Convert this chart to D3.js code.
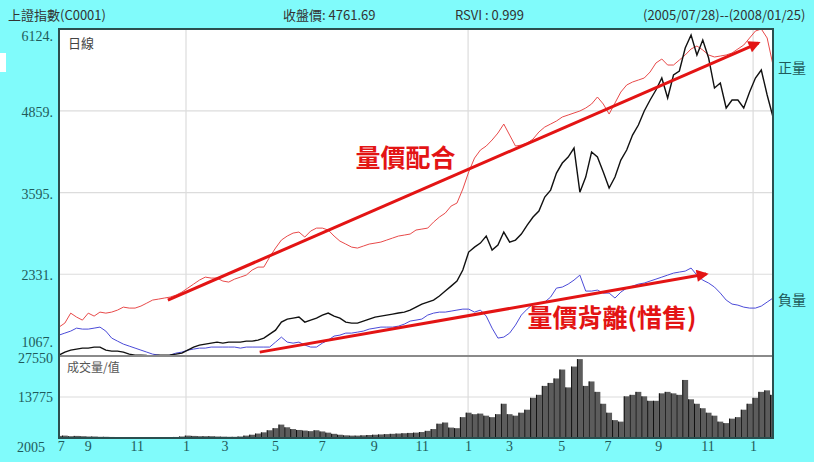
<!DOCTYPE html>
<html>
<head>
<meta charset="utf-8">
<script src="https://cdn.jsdelivr.net/npm/d3@7"></script>
<style>
  body { margin: 0; background: #80fbfb; }
  svg { display: block; }
  text { font-family: 'Liberation Serif', 'Noto Sans CJK TC', serif; }
  .cjk { font-family: 'Noto Sans CJK TC', sans-serif; }
</style>
</head>
<body>
<div id="chart"></div>
<script>
// one sample every 5 trading days, 2005/07/28 .. 2008/01/25
const closes = [
  1081, 1127, 1158, 1174, 1189, 1189, 1205, 1205, 1158, 1143,
  1143, 1127, 1096, 1081, 1081, 1075, 1072, 1078, 1081, 1085,
  1096, 1112, 1158, 1205, 1236, 1251, 1267, 1282, 1267, 1282,
  1282, 1282, 1297, 1297, 1313, 1344, 1406, 1467, 1591, 1638,
  1653, 1669, 1591, 1622, 1653, 1700, 1731, 1684, 1653, 1591,
  1576, 1576, 1607, 1638, 1669, 1684, 1700, 1715, 1731, 1746,
  1777, 1823, 1870, 1901, 1932, 1994, 2071, 2148, 2226, 2396,
  2674, 2751, 2813, 2922, 2705, 2782, 2984, 2829, 2860, 2953,
  3092, 3216, 3308, 3525, 3633, 3896, 4051, 4144, 4283, 3600,
  3834, 4221, 4144, 3912, 3664, 3834, 4097, 4252, 4484, 4639,
  4856, 5026, 5180, 5366, 5057, 5413, 5475, 5830, 6031, 5722,
  5954, 5675, 5211, 5289, 4902, 5026, 5026, 4902, 5149, 5366,
  5490, 5103, 4761.69
]

const positiveVol = [
  1514, 1576, 1730, 1669, 1622, 1730, 1684, 1746, 1730, 1746,
  1777, 1823, 1808, 1808, 1839, 1885, 1932, 1947, 1963, 1978,
  2009, 2055, 2117, 2179, 2241, 2287, 2272, 2272, 2226, 2210,
  2256, 2287, 2318, 2396, 2442, 2442, 2597, 2736, 2860, 2922,
  2968, 2984, 2906, 2999, 3045, 3045, 3015, 2922, 2844, 2798,
  2751, 2736, 2767, 2798, 2813, 2829, 2860, 2891, 2922, 2937,
  2953, 3015, 3030, 3045, 3138, 3216, 3277, 3386, 3432, 3649,
  3912, 4128, 4252, 4314, 4407, 4515, 4654, 4484, 4314, 4329,
  4360, 4422, 4531, 4608, 4654, 4701, 4763, 4794, 4825, 4856,
  4902, 4964, 5072, 4964, 4809, 4979, 5149, 5258, 5304, 5335,
  5366, 5459, 5598, 5660, 5567, 5567, 5644, 5722, 5815, 5861,
  5799, 5722, 5691, 5706, 5722, 5753, 5815, 5876, 5985, 6093,
  6124, 5985, 5567
]

const negativeVol = [
  1390, 1421, 1452, 1498, 1483, 1483, 1498, 1514, 1452, 1344,
  1297, 1251, 1220, 1189, 1158, 1127, 1096, 1081, 1060, 1081,
  1112, 1127, 1158, 1174, 1189, 1189, 1205, 1205, 1205, 1205,
  1205, 1189, 1205, 1205, 1205, 1205, 1205, 1282, 1359, 1282,
  1266, 1282, 1236, 1205, 1205, 1266, 1313, 1375, 1390, 1421,
  1421, 1436, 1452, 1483, 1498, 1514, 1514, 1514, 1529, 1560,
  1607, 1622, 1638, 1700, 1730, 1746, 1746, 1761, 1777, 1792,
  1792, 1746, 1777, 1684, 1498, 1344, 1359, 1421, 1545, 1700,
  1792, 1870, 1885, 1901, 1978, 2117, 2133, 2179, 2241, 2318,
  2071, 2071, 2086, 2040, 2040, 1963, 2055, 2117, 2148, 2179,
  2195, 2226, 2256, 2287, 2318, 2349, 2365, 2380, 2427, 2318,
  2241, 2195, 2133, 2040, 1932, 1870, 1854, 1823, 1808, 1808,
  1839, 1901, 1963
]

const volume = [
  700, 800, 600, 700, 600, 500, 500, 400, 400, 350,
  300, 300, 250, 250, 250, 250, 250, 250, 300, 300,
  350, 500, 800, 700, 600, 600, 600, 500, 450, 400,
  400, 500, 800, 1100, 1500, 1900, 2600, 3300, 4500, 3600,
  3000, 2700, 2500, 2300, 2600, 2200, 1800, 1400, 1100, 900,
  800, 800, 900, 1000, 1100, 1200, 1300, 1400, 1500, 1600,
  1700, 1800, 2000, 2400, 3000, 4800, 5200, 3500, 3300, 7000,
  8500, 8000, 8200, 7500, 7000, 8000, 11500, 8000, 7500, 8500,
  9500, 13500, 14500, 17500, 18500, 20000, 23000, 17000, 24000, 26500,
  17500, 19000, 15500, 11500, 8500, 6000, 5500, 14000, 14500, 15500,
  14000, 12500, 12500, 15000, 15500, 15000, 14500, 19500, 13000, 11500,
  10000, 8500, 7500, 5500, 5000, 6500, 7000, 9500, 11500, 13500,
  15500, 16000, 14500
]

const priceTicks = [1067, 2331, 3595, 4859, 6124]
const volTicks = [13775, 27550]
const monthLabels = ['7', '9', '11', '1', '3', '5', '7', '9', '11', '1', '3', '5', '7', '9', '11', '1']
const monthPos = [0.3, 4.9, 13.3, 21.7, 28.3, 36.9, 44.9, 53.8, 62.0, 69.9, 76.9, 85.8, 93.7, 102.4, 110.8, 118.6]
const startYear = '2005'

const header = [
  { text: '上證指數(C0001)', x: 8 },
  { text: '收盤價: 4761.69', x: 283 },
  { text: 'RSVI : 0.999', x: 455 },
  { text: '(2005/07/28)--(2008/01/25)', x: 643 }
]

// annotation arrows, in data units [index, value]
const notes = [
  { from: [18.6, 1931], to: [119.5, 5907], label: '量價配合', at: [59.2, 3990] },
  { from: [34.3, 1127], to: [110.6, 2334], label: '量價背離(惜售)', at: [94.5, 1514] }
]

const width = 814
const height = 462
const plot = { left: 59, right: 773, top: 29, mid: 356, bottom: 438 }

const svg = d3.select('#chart')
  .append('svg')
  .attr('width', width)
  .attr('height', height)

svg.append('rect')
  .attr('width', width)
  .attr('height', height)
  .attr('fill', '#80fbfb')

svg.append('rect')
  .attr('x', 0).attr('y', 53)
  .attr('width', 6).attr('height', 19)
  .attr('fill', '#fff')

svg.append('rect')
  .attr('x', plot.left)
  .attr('y', plot.top)
  .attr('width', plot.right - plot.left)
  .attr('height', plot.bottom - plot.top)
  .attr('fill', '#fff')

const x = d3.scaleLinear()
  .domain([0, closes.length - 1])
  .range([plot.left, plot.right])

const y = d3.scaleLinear()
  .domain([priceTicks[0], priceTicks[priceTicks.length - 1]])
  .range([plot.mid, plot.top])

const yVol = d3.scaleLinear()
  .domain([0, volTicks[volTicks.length - 1]])
  .range([plot.bottom, plot.mid])

const defs = svg.append('defs')
defs.append('clipPath').attr('id', 'clipPrice')
  .append('rect')
  .attr('x', plot.left).attr('y', plot.top)
  .attr('width', plot.right - plot.left).attr('height', plot.mid - plot.top)
defs.append('clipPath').attr('id', 'clipVol')
  .append('rect')
  .attr('x', plot.left).attr('y', plot.mid)
  .attr('width', plot.right - plot.left).attr('height', plot.bottom - plot.mid)
defs.append('marker')
  .attr('id', 'arrowHead')
  .attr('viewBox', '0 0 10 10')
  .attr('refX', 8).attr('refY', 5)
  .attr('markerWidth', 5).attr('markerHeight', 4)
  .attr('markerUnits', 'strokeWidth')
  .attr('orient', 'auto')
  .append('path')
  .attr('d', 'M0,0L10,5L0,10z')
  .attr('fill', '#e31414')

// grid
const grid = svg.append('g').attr('stroke', '#dcdcdc').attr('stroke-width', 1.2)
grid.selectAll('.hgrid')
  .data(priceTicks.slice(1, -1))
  .join('line')
  .attr('x1', plot.left).attr('x2', plot.right)
  .attr('y1', d => y(d)).attr('y2', d => y(d))
grid.selectAll('.vgrid')
  .data(volTicks.slice(0, -1))
  .join('line')
  .attr('x1', plot.left).attr('x2', plot.right)
  .attr('y1', d => yVol(d)).attr('y2', d => yVol(d))
grid.selectAll('.ygrid')
  .data(monthPos.filter((d, i) => monthLabels[i] === '1'))
  .join('line')
  .attr('x1', d => x(d)).attr('x2', d => x(d))
  .attr('y1', plot.top).attr('y2', plot.bottom)

// volume bars
const step = x(1) - x(0)
const bars = svg.append('g').attr('clip-path', 'url(#clipVol)')
bars.selectAll('rect')
  .data(volume)
  .join('rect')
  .attr('x', (d, i) => x(i) - step / 2)
  .attr('width', step)
  .attr('y', d => yVol(d))
  .attr('height', d => yVol(0) - yVol(d))
  .attr('fill', '#5c5c5c')
bars.selectAll('line')
  .data(volume)
  .join('line')
  .attr('x1', (d, i) => x(i) - step / 2 + 0.5)
  .attr('x2', (d, i) => x(i) - step / 2 + 0.5)
  .attr('y1', d => yVol(d))
  .attr('y2', yVol(0))
  .attr('stroke', '#111')
  .attr('stroke-width', 1)

// lines
const line = d3.line()
  .x((d, i) => x(i))
  .y(d => y(d))

const lines = svg.append('g').attr('clip-path', 'url(#clipPrice)')
lines.append('path')
  .datum(positiveVol)
  .attr('fill', 'none')
  .attr('stroke', '#e84a4a')
  .attr('stroke-width', 1)
  .attr('d', line)
lines.append('path')
  .datum(negativeVol)
  .attr('fill', 'none')
  .attr('stroke', '#4b4bd8')
  .attr('stroke-width', 1)
  .attr('d', line)
lines.append('path')
  .datum(closes)
  .attr('fill', 'none')
  .attr('stroke', '#111')
  .attr('stroke-width', 1.4)
  .attr('d', line)

// frame
svg.append('line')
  .attr('x1', plot.left).attr('x2', plot.right)
  .attr('y1', plot.mid).attr('y2', plot.mid)
  .attr('stroke', '#8a8a8a').attr('stroke-width', 2)
svg.append('rect')
  .attr('x', plot.left)
  .attr('y', plot.top)
  .attr('width', plot.right - plot.left)
  .attr('height', plot.bottom - plot.top)
  .attr('fill', 'none')
  .attr('stroke', '#2b4f4f')
  .attr('stroke-width', 2)

// annotations
svg.append('g')
  .selectAll('line')
  .data(notes)
  .join('line')
  .attr('x1', d => x(d.from[0])).attr('y1', d => y(d.from[1]))
  .attr('x2', d => x(d.to[0])).attr('y2', d => y(d.to[1]))
  .attr('stroke', '#e31414')
  .attr('stroke-width', 3)
  .attr('marker-end', 'url(#arrowHead)')

svg.append('g')
  .selectAll('text')
  .data(notes)
  .join('text')
  .attr('class', 'cjk')
  .attr('x', d => x(d.at[0]))
  .attr('y', d => y(d.at[1]))
  .attr('text-anchor', 'middle')
  .attr('font-size', 25)
  .attr('font-weight', 'bold')
  .attr('fill', '#e31414')
  .text(d => d.label)

// axes
const yAxis = svg.append('g')
  .attr('transform', 'translate(' + (plot.left - 6) + ',0)')
  .call(d3.axisLeft(y).tickValues(priceTicks).tickSize(0).tickPadding(0).tickFormat(d => d + '.'))
yAxis.select('.domain').remove()
yAxis.selectAll('text')
  .attr('dy', (d, i) => i === 0 ? '-0.68em' : (i === priceTicks.length - 1 ? '0.85em' : '0.4em'))

const volAxis = svg.append('g')
  .attr('transform', 'translate(' + (plot.left - 6) + ',0)')
  .call(d3.axisLeft(yVol).tickValues(volTicks).tickSize(0).tickPadding(0).tickFormat(d3.format('d')))
volAxis.select('.domain').remove()
volAxis.selectAll('text').attr('dy', (d, i) => i === volTicks.length - 1 ? '0.45em' : '0.35em')

const xAxis = svg.append('g')
  .attr('transform', 'translate(0,' + plot.bottom + ')')
  .call(d3.axisBottom(x).tickValues(monthPos).tickSize(0).tickPadding(3).tickFormat((d, i) => monthLabels[i]))
xAxis.select('.domain').remove()

svg.selectAll('.tick text')
  .attr('font-family', "'Liberation Serif', serif")
  .attr('font-size', 14)
  .attr('fill', '#1f5a5a')

svg.append('text')
  .attr('x', plot.left - 14)
  .attr('y', plot.bottom + 14)
  .attr('text-anchor', 'end')
  .attr('font-size', 14)
  .attr('fill', '#1f5a5a')
  .text(startYear)

// header and panel captions
svg.append('g')
  .selectAll('text')
  .data(header)
  .join('text')
  .attr('class', 'cjk')
  .attr('x', d => d.x)
  .attr('y', 20)
  .attr('font-size', 13)
  .attr('fill', '#333')
  .text(d => d.text)

svg.append('text')
  .attr('class', 'cjk')
  .attr('x', plot.left + 9).attr('y', plot.top + 19)
  .attr('font-size', 13).attr('fill', '#444')
  .text('日線')

svg.append('text')
  .attr('class', 'cjk')
  .attr('x', plot.left + 8).attr('y', plot.mid + 16)
  .attr('font-size', 12).attr('fill', '#555')
  .text('成交量/值')

svg.append('text')
  .attr('class', 'cjk')
  .attr('x', plot.right + 5).attr('y', y(positiveVol[positiveVol.length - 1]) + 8)
  .attr('font-size', 14).attr('fill', '#1f5a5a')
  .text('正量')

svg.append('text')
  .attr('class', 'cjk')
  .attr('x', plot.right + 5).attr('y', y(negativeVol[negativeVol.length - 1]) + 7)
  .attr('font-size', 14).attr('fill', '#1f5a5a')
  .text('負量')
</script>
</body>
</html>
